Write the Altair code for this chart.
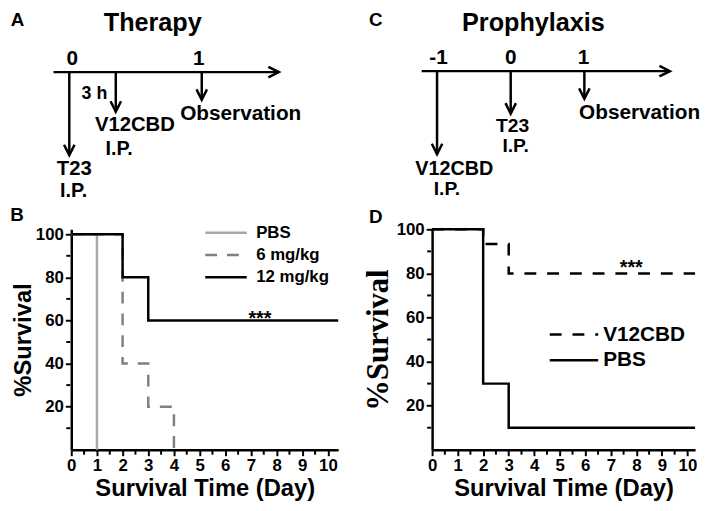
import altair as alt
import pandas as pd

FONT = "Liberation Sans"
SERIF = "Liberation Serif"

# ---------------- Panel B (therapy survival) ----------------
b_series = ["PBS", "6 mg/kg", "12 mg/kg"]
b_colors = ["#a8a8a8", "#808080", "#000000"]
b_pbs_day = [0, 1]
b_pbs_surv = [100, 0]
b_6_day = [0, 2, 3, 4]
b_6_surv = [100, 40, 20, 0]
b_12_day = [0, 2, 3, 10.4]
b_12_surv = [100, 80, 60, 60]

# ---------------- Panel D (prophylaxis survival) ----------------
d_series = ["V12CBD", "PBS"]
d_colors = ["#000000", "#000000"]
d_v12_day = [0, 2, 3, 10.3]
d_v12_surv = [100, 93.3, 80, 80]
d_pbs_day = [0, 2, 3, 10.3]
d_pbs_surv = [100, 30, 10, 10]

x_major = [0, 1, 2, 3, 4, 5, 6, 7, 8, 9, 10]
x_minor = [0.5, 1.5, 2.5, 3.5, 4.5, 5.5, 6.5, 7.5, 8.5, 9.5]
y_major = [20, 40, 60, 80, 100]
y_minor = [10, 30, 50, 70, 90]

# significance marks (day, survival level)
b_sig = {"day": [7.35], "surv": [60], "text": ["***"]}
d_sig = {"day": [7.8], "surv": [80], "text": ["***"]}

# ---------------- Schematic A (therapy timeline) ----------------
a_tick_text = ["0", "1"]
a_tick_pos = [0.022, 0.978]
a_event_pos = [0, 0.351, 1]
a_event_tip = [146, 102, 90]
a_line = [-0.119, 1.582]
a_line_level = 62
a_text = ["A", "Therapy", "3 h", "V12CBD", "I.P.", "T23", "I.P.", "Observation", "B"]
a_text_x = [-0.39, 0.63, 0.19, 0.495, 0.376, 0.038, 0.033, 1.294, -0.394]
a_text_y = [15, 20, 89, 122, 146, 166, 188, 110, 213]
a_text_fs = [19, 25.5, 18, 20.5, 20, 20.5, 20, 21, 19]

# ---------------- Schematic C (prophylaxis timeline) ----------------
c_tick_text = ["-1", "0", "1"]
c_tick_pos = [-0.98, 0, 0.99]
c_event_pos = [-1, 0, 1]
c_event_tip = [145, 104, 89]
c_line = [-1.208, 2.161]
c_line_level = 61
c_text = ["C", "Prophylaxis", "V12CBD", "I.P.", "T23", "I.P.", "Observation", "D"]
c_text_x = [-1.83, 0.309, -0.765, -0.866, 0.027, 0.067, 1.75, -1.83]
c_text_y = [15, 20, 166, 186, 123, 143, 109, 215]
c_text_fs = [19, 25.5, 20, 19.5, 19.5, 19.5, 21, 19]


def schematic(xdom, width, height, tick_text, tick_pos, ev_pos, ev_tip, line, level,
              texts, tx, ty, tfs):
    xs = alt.Scale(domain=xdom, nice=False, zero=False)
    ys = alt.Scale(domain=[0, height], reverse=True, nice=False, zero=False)
    segs = pd.DataFrame({
        "x": [line[0]] + list(ev_pos),
        "x2": [line[1]] + list(ev_pos),
        "y": [level] * (1 + len(ev_pos)),
        "y2": [level] + list(ev_tip),
    })
    rules = alt.Chart(segs).mark_rule(color="black", strokeWidth=2.5).encode(
        x=alt.X("x:Q", scale=xs, axis=None), x2="x2:Q",
        y=alt.Y("y:Q", scale=ys, axis=None), y2="y2:Q")
    heads_down = alt.Chart(pd.DataFrame({"x": ev_pos, "y": ev_tip})).mark_point(
        shape="M-1,-2L0,0L1,-2", filled=False, color="black", strokeWidth=2.5,
        size=112, opacity=1).encode(
        x=alt.X("x:Q", scale=xs, axis=None), y=alt.Y("y:Q", scale=ys, axis=None))
    head_right = alt.Chart(pd.DataFrame({"x": [line[1]], "y": [level]})).mark_point(
        shape="M-2,-1L0,0L-2,1", filled=False, color="black", strokeWidth=2.5,
        size=112, opacity=1).encode(
        x=alt.X("x:Q", scale=xs, axis=None), y=alt.Y("y:Q", scale=ys, axis=None))
    tdf = pd.DataFrame({"x": list(tick_pos) + list(tx),
                        "y": [level - 7] * len(tick_pos) + list(ty),
                        "t": list(tick_text) + list(texts),
                        "fs": [21] * len(tick_pos) + list(tfs)})
    labels = alt.Chart(tdf).mark_text(font=FONT, fontWeight="bold", color="black",
                                      baseline="alphabetic", align="center").encode(
        x=alt.X("x:Q", scale=xs, axis=None), y=alt.Y("y:Q", scale=ys, axis=None),
        text="t:N", size=alt.Size("fs:Q", scale=None, legend=None))
    return alt.layer(rules, heads_down, head_right, labels).properties(width=width, height=height)


def x_axis():
    return alt.Axis(values=x_major, format="d",
                    tickSize=6, tickWidth=2, tickColor="black",
                    domainWidth=2.5, domainColor="black", grid=False,
                    labelFont=FONT, labelFontSize=17, labelFontWeight="bold", labelColor="black",
                    labelPadding=2, labelFlush=False, labelOverlap=False,
                    titleFont=FONT, titleFontSize=24, titleFontWeight="bold", titleColor="black",
                    titlePadding=3)


def y_axis(title_font, title_size, title_pad):
    return alt.Axis(values=y_major, format="d",
                    tickSize=6, tickWidth=2, tickColor="black",
                    domainWidth=2.5, domainColor="black", grid=False,
                    labelFont=FONT, labelFontSize=17, labelFontWeight="bold", labelColor="black",
                    labelPadding=2, labelOverlap=False,
                    titleFont=title_font, titleFontSize=title_size, titleFontWeight="bold",
                    titleColor="black", titlePadding=title_pad)


def survival(field, draw, names, colors, dashes, xmax, ymax, width, height,
             legend, title_font, title_size, title_pad, sig, star_dy):
    xs = alt.Scale(domain=[0, xmax], nice=False, zero=False)
    ys = alt.Scale(domain=[0, ymax], nice=False, zero=False)
    cs = alt.Scale(domain=names, range=colors)
    ds = alt.Scale(domain=names, range=dashes)

    def X(f):
        return alt.X(f, scale=xs, axis=x_axis(), title="Survival Time (Day)")

    def Y(f):
        return alt.Y(f, scale=ys, axis=y_axis(title_font, title_size, title_pad),
                     title="%Survival")

    layers = []
    for name, days, surv in draw:
        df = pd.DataFrame({"day": days, "surv": surv, field: [name] * len(days)})
        layers.append(alt.Chart(df).mark_line(interpolate="step-after", strokeWidth=2.5).encode(
            x=X("day:Q"), y=Y("surv:Q"),
            color=alt.Color(f"{field}:N", scale=cs, legend=legend),
            strokeDash=alt.StrokeDash(f"{field}:N", scale=ds, legend=legend),
        ))
    star = alt.Chart(pd.DataFrame(sig)).mark_text(
        font=FONT, fontWeight="bold", fontSize=20, color="black",
        baseline="alphabetic", align="center", dy=star_dy).encode(
        x=X("day:Q"), y=Y("surv:Q"), text="text:N")
    xminor = alt.Chart(pd.DataFrame({"day": x_minor, "surv": [0] * len(x_minor)})).mark_tick(
        orient="vertical", size=4, thickness=2, color="black", yOffset=3, opacity=1).encode(
        x=X("day:Q"), y=Y("surv:Q"))
    yminor = alt.Chart(pd.DataFrame({"surv": y_minor, "day": [0] * len(y_minor)})).mark_tick(
        orient="horizontal", size=4, thickness=2, color="black", xOffset=-3, opacity=1).encode(
        y=Y("surv:Q"), x=X("day:Q"))
    return alt.layer(*layers, star, xminor, yminor).properties(width=width, height=height)


A = schematic([0.015, 2.03], 270, 211, a_tick_text, a_tick_pos, a_event_pos, a_event_tip,
              a_line, a_line_level, a_text, a_text_x, a_text_y, a_text_fs)
C = schematic([-1.067, 2.503], 266, 211, c_tick_text, c_tick_pos, c_event_pos, c_event_tip,
              c_line, c_line_level, c_text, c_text_x, c_text_y, c_text_fs)

legend_b = alt.Legend(orient="none", legendX=148, legendY=-5, title=None,
                      symbolType="M-3,0H3", symbolSize=196, symbolStrokeWidth=2.5,
                      labelFont=FONT, labelFontSize=17, labelFontWeight="bold",
                      labelColor="black", labelOffset=22, rowPadding=4.5)
legend_d = alt.Legend(orient="none", legendX=133, legendY=96, title=None,
                      symbolType="M-3.5,0H3.5", symbolSize=196, symbolStrokeWidth=2.5,
                      labelFont=FONT, labelFontSize=21, labelFontWeight="bold",
                      labelColor="black", labelOffset=19, rowPadding=4)

B = survival("grp_b",
             [("PBS", b_pbs_day, b_pbs_surv), ("6 mg/kg", b_6_day, b_6_surv),
              ("12 mg/kg", b_12_day, b_12_surv)],
             b_series, b_colors, [[1, 0], [12, 10], [1, 0]], 10.4, 102.3, 270, 223,
             legend_b, FONT, 24, 0, b_sig, 5)
D = survival("grp_d",
             [("PBS", d_pbs_day, d_pbs_surv), ("V12CBD", d_v12_day, d_v12_surv)],
             d_series, d_colors, [[12, 11], [1, 0]], 10.3, 100, 266, 223,
             legend_d, SERIF, 31, 2, d_sig, 1)

chart = alt.concat(A, C, B, D, columns=2, spacing={"row": 10, "column": 95},
                   bounds="flush").resolve_scale(
    color="independent", strokeDash="independent").properties(
    padding={"left": 2, "top": 0, "right": 0, "bottom": 0},
    background="white").configure_view(stroke=None)

chart.save("out.html", embed_options={"renderer": "svg", "actions": False})
